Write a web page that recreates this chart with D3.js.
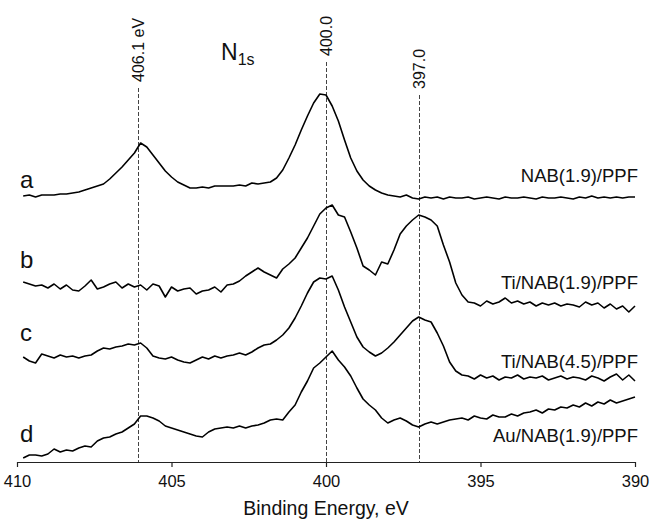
<!DOCTYPE html>
<html>
<head>
<meta charset="utf-8">
<script src="https://cdn.jsdelivr.net/npm/d3@7"></script>
<style>
  body { margin: 0; background: #fff; }
  svg { display: block; font-family: "Liberation Sans", Arial, sans-serif; }
</style>
</head>
<body>
<svg id="chart"></svg>
<script>
// binding energy grid (eV)
const energies = [
  409.8, 409.6, 409.4, 409.2, 409.0, 408.8, 408.6, 408.4, 408.2, 408.0,
  407.8, 407.6, 407.4, 407.2, 407.0, 406.8, 406.6, 406.4, 406.2, 406.0,
  405.8, 405.6, 405.4, 405.2, 405.0, 404.8, 404.6, 404.4, 404.2, 404.0,
  403.8, 403.6, 403.4, 403.2, 403.0, 402.8, 402.6, 402.4, 402.2, 402.0,
  401.8, 401.6, 401.4, 401.2, 401.0, 400.8, 400.6, 400.4, 400.2, 400.0,
  399.8, 399.6, 399.4, 399.2, 399.0, 398.8, 398.6, 398.4, 398.2, 398.0,
  397.8, 397.6, 397.4, 397.2, 397.0, 396.8, 396.6, 396.4, 396.2, 396.0,
  395.8, 395.6, 395.4, 395.2, 395.0, 394.8, 394.6, 394.4, 394.2, 394.0,
  393.8, 393.6, 393.4, 393.2, 393.0, 392.8, 392.6, 392.4, 392.2, 392.0,
  391.8, 391.6, 391.4, 391.2, 391.0, 390.8, 390.6, 390.4, 390.2, 390.0
];

// intensities (a.u.), one array per sample
const nabPPF = [
  2, 3, 1, 3, 3, 3, 4, 4, 5, 6,
  8, 10, 12, 14, 19, 25, 31, 38, 45, 55,
  51, 43, 35, 27, 21, 16, 13, 10, 10, 11,
  10, 12, 12, 12, 12, 13, 12, 15, 14, 15,
  16, 20, 28, 40, 53, 68, 82, 95, 104, 103,
  92, 77, 58, 40, 27, 18, 12, 8, 5, 3,
  2, 1, 3, 0, -1, 1, 0, 1, -1, 1,
  0, 0, 1, -1, 0, 1, 0, -1, 1, 0,
  0, 1, 0, -1, 1, 0, 0, 1, 0, -1,
  1, 0, 2, 0, 1, 0, 1, 0, 1, 1
];
const tiNab19 = [
  26, 24, 22, 23, 20, 24, 19, 23, 18, 17,
  22, 28, 19, 21, 24, 26, 20, 24, 21, 23,
  18, 24, 22, 11, 21, 17, 19, 20, 14, 17,
  18, 21, 16, 23, 24, 27, 32, 36, 40, 36,
  33, 30, 39, 44, 50, 60, 70, 82, 94, 100,
  103, 93, 91, 76, 60, 42, 38, 33, 46, 44,
  58, 74, 82, 88, 93, 91, 88, 82, 63, 46,
  25, 13, 6, 5, 2, 7, 4, 6, 10, 5,
  7, 4, 6, 2, 5, 3, 5, 2, 4, 3,
  1, 6, 3, 5, 0, 4, -1, 2, -4, 2
];
const tiNab45 = [
  23, 19, 17, 26, 24, 22, 25, 23, 24, 22,
  24, 25, 29, 32, 31, 33, 34, 36, 35, 37,
  32, 24, 22, 21, 23, 20, 18, 17, 20, 23,
  21, 24, 22, 24, 25, 27, 25, 28, 32, 35,
  36, 40, 45, 52, 62, 74, 87, 98, 102, 101,
  104, 90, 73, 58, 43, 33, 28, 24, 27, 32,
  38, 45, 52, 59, 63, 60, 58, 47, 34, 18,
  9, 5, 4, 1, 5, 2, 4, 0, 3, 2,
  5, 1, 3, 2, 4, 0, 2, 4, 1, 3,
  2, 0, 4, 2, -1, 3, 6, 0, 5, -1
];
const auNab19 = [
  0, 3, 3, 2, 4, 9, 6, 8, 7, 10,
  12, 11, 17, 20, 21, 24, 26, 30, 34, 42,
  42, 40, 37, 32, 30, 28, 26, 24, 22, 21,
  26, 29, 30, 31, 30, 32, 30, 32, 33, 35,
  38, 39, 38, 46, 53, 66, 77, 90, 95, 101,
  107, 98, 91, 82, 70, 59, 53, 48, 40, 35,
  38, 40, 37, 33, 31, 34, 36, 34, 36, 38,
  39, 40, 38, 42, 40, 39, 43, 41, 41, 44,
  42, 45, 46, 48, 45, 49, 48, 51, 50, 53,
  51, 55, 52, 56, 54, 58, 55, 57, 59, 61
];

const series = [nabPPF, tiNab19, tiNab45, auNab19];
const letters = ['a', 'b', 'c', 'd'];
const sampleNames = ['NAB(1.9)/PPF', 'Ti/NAB(1.9)/PPF', 'Ti/NAB(4.5)/PPF', 'Au/NAB(1.9)/PPF'];
const offsets = [264, 154, 82, 4];

const xTicks = [410, 405, 400, 395, 390];
const markers = [406.1, 400.0, 397.0];
const markerLabels = ['406.1 eV', '400.0', '397.0'];

// layout
const width = 654, height = 521;
const margin = { top: 62, right: 19, bottom: 59, left: 17 };
const axisY = height - margin.bottom;

const svg = d3.select('#chart')
  .attr('width', width)
  .attr('height', height);

const xScale = d3.scaleLinear()
  .domain([410, 390])
  .range([margin.left, width - margin.right]);

const yScale = d3.scaleLinear()
  .domain([0, 400])
  .range([axisY, margin.top]);

// dashed reference lines + rotated labels
const lineTops = [88, 62, 95];
const markerG = svg.append('g');
markers.forEach((m, i) => {
  const x = Math.round(xScale(m)) + 0.5;
  markerG.append('line')
    .attr('x1', x).attr('x2', x)
    .attr('y1', lineTops[i]).attr('y2', axisY)
    .attr('stroke', '#444')
    .attr('stroke-width', 1)
    .attr('stroke-dasharray', '4,2');
  markerG.append('text')
    .attr('transform', `translate(${x + 5.5},${lineTops[i] - 6}) rotate(-90)`)
    .attr('font-size', 16)
    .attr('fill', '#111')
    .text(markerLabels[i]);
});

// spectra
const line = d3.line()
  .x((d, i) => xScale(energies[i]))
  .y(d => d);

series.forEach((vals, k) => {
  const ys = vals.map(v => yScale(v + offsets[k]));
  svg.append('path')
    .attr('d', line(ys))
    .attr('fill', 'none')
    .attr('stroke', '#000')
    .attr('stroke-width', 1.6)
    .attr('stroke-linejoin', 'round');
});

// trace letters and sample labels
const letterY = [188, 268, 341, 442];
const nameY = [182, 289, 368, 442];
letters.forEach((l, i) => {
  svg.append('text')
    .attr('x', 20).attr('y', letterY[i])
    .attr('font-size', 24)
    .attr('fill', '#111')
    .text(l);
  svg.append('text')
    .attr('x', 638).attr('y', nameY[i])
    .attr('text-anchor', 'end')
    .attr('font-size', 18.5)
    .attr('fill', '#111')
    .text(sampleNames[i]);
});

// N1s title
const title = svg.append('text')
  .attr('x', 221).attr('y', 60)
  .attr('font-size', 23)
  .attr('fill', '#111');
title.append('tspan').text('N');
title.append('tspan')
  .attr('font-size', 16)
  .attr('dy', 5)
  .text('1s');

// x axis
const xAxis = d3.axisBottom(xScale)
  .tickValues(xTicks)
  .tickFormat(d3.format('d'))
  .tickSize(5)
  .tickSizeOuter(0)
  .tickPadding(8);

const xAxisG = svg.append('g')
  .attr('transform', `translate(0,${axisY})`)
  .call(xAxis);
xAxisG.select('.domain').attr('stroke', '#222').attr('stroke-width', 1.2);
xAxisG.selectAll('.tick line').attr('stroke', '#222').attr('stroke-width', 1.2);
xAxisG.selectAll('.tick text')
  .attr('font-size', 16.5)
  .attr('font-family', '"Liberation Sans", Arial, sans-serif')
  .attr('fill', '#111');

svg.append('text')
  .attr('x', (margin.left + width - margin.right) / 2)
  .attr('y', 515)
  .attr('text-anchor', 'middle')
  .attr('font-size', 19.5)
  .attr('fill', '#111')
  .text('Binding Energy, eV');
</script>
</body>
</html>
